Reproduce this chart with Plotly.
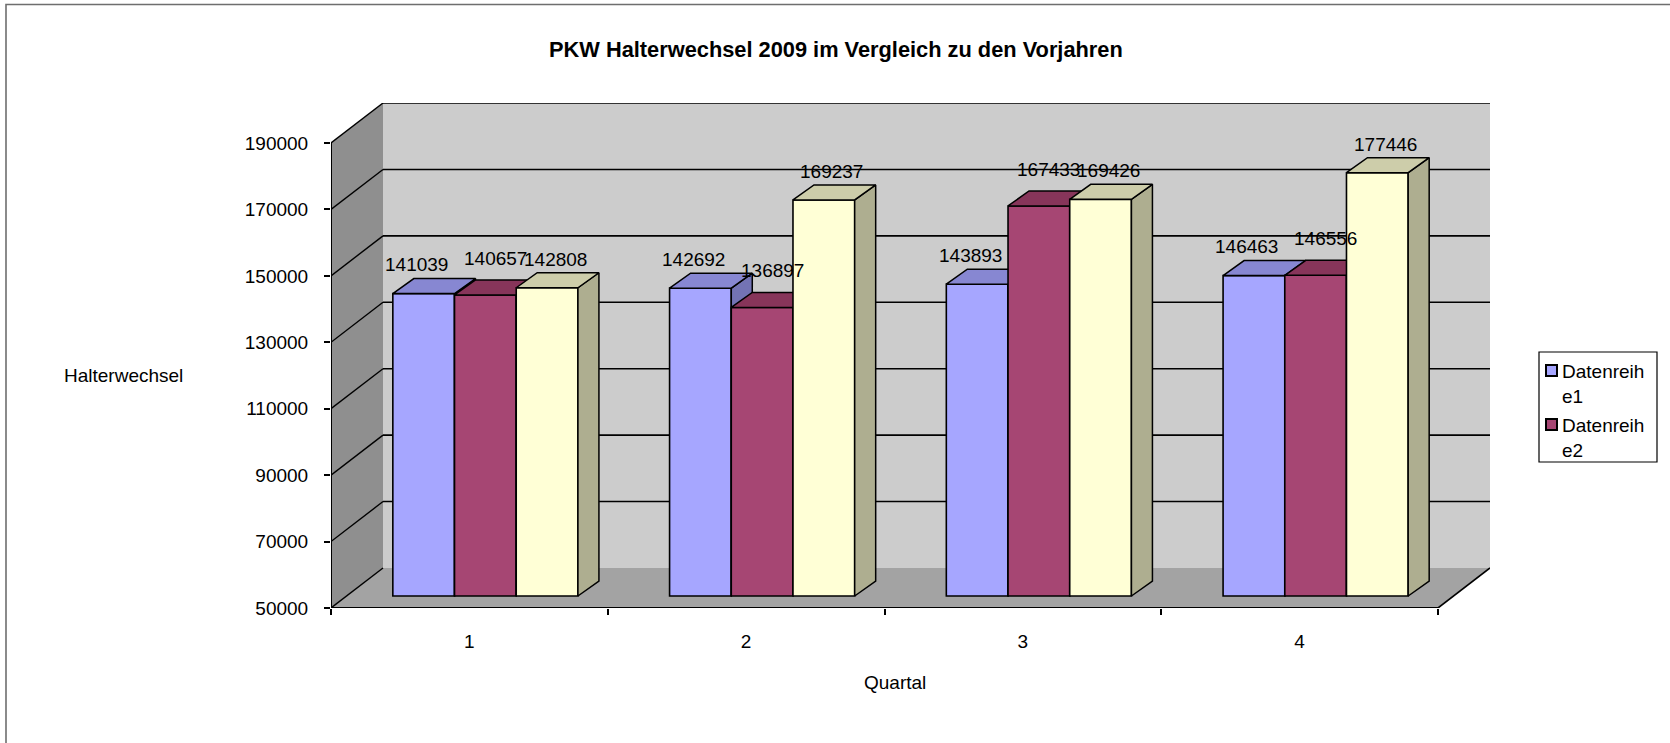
import plotly.graph_objects as go

# ---------------- data ----------------
quarters = [1, 2, 3, 4]
series_names = ["Datenreihe1", "Datenreihe2", "Datenreihe3"]
series1 = [141039, 142692, 143893, 146463]
series2 = [140657, 136897, 167433, 146556]
series3 = [142808, 169237, 169426, 177446]
y_ticks = [50000, 70000, 90000, 110000, 130000, 150000, 170000, 190000]
chart_title = "PKW Halterwechsel 2009 im Vergleich zu den Vorjahren"
x_title = "Quartal"
y_title = "Halterwechsel"
legend_shown = 2  # the legend box in the original only shows two entries

series_values = [series1, series2, series3]

# ---------------- styles ----------------
W, H = 1670, 743
FONT = "Liberation Sans, Arial, sans-serif"
FS = 19
front_colors = ["#A6A6FF", "#A64673", "#FFFFD6"]
top_colors = ["#8787D2", "#87355A", "#CDCDAA"]
side_colors = ["#7373B4", "#6E2B4A", "#AEAE90"]
label_dx = [-7, 10, 8]      # px shift of value labels per series
label_up = [22, 30, 22]     # px baseline above front top per series

# geometry in pixels
PX_LEFT, PX_RIGHT, PX_BOTTOM, PX_TOP_TICK = 331, 1438, 608, 143
WALL_DX, WALL_DY = 52, 40
BAR_SHIFT_X, BAR_SHIFT_Y = 16, 12
BAR_DX, BAR_DY = 21, 15
BAR_W_PX = 61.7

n_cat = len(quarters)
x_lo = quarters[0] - 0.5
x_hi = quarters[-1] + 0.5
UX = (x_hi - x_lo) / (PX_RIGHT - PX_LEFT)
y_lo, y_hi = y_ticks[0], y_ticks[-1]
UY = (y_hi - y_lo) / (PX_BOTTOM - PX_TOP_TICK)

x_range = [x_lo, x_hi + WALL_DX * UX]
y_range = [y_lo, y_hi + WALL_DY * UY]

def px(x):
    return x / W

def py(y):
    return 1 - y / H

fig = go.Figure()

# invisible trace so the base subplot exists
fig.add_trace(go.Scatter(x=[x_lo], y=[y_lo], mode="markers", marker=dict(opacity=0),
                         showlegend=False, hoverinfo="skip", xaxis="x", yaxis="y"))

wx, wy = WALL_DX * UX, WALL_DY * UY
shapes = []
# back wall
shapes.append(dict(type="rect", xref="x", yref="y", x0=x_lo + wx, x1=x_hi + wx,
                   y0=y_lo + wy, y1=y_hi + wy, fillcolor="#CCCCCC", line=dict(width=0), layer="below"))
# left wall
shapes.append(dict(type="path", xref="x", yref="y", layer="below", fillcolor="#8F8F8F", line=dict(width=0),
                   path=f"M {x_lo},{y_lo} L {x_lo},{y_hi} L {x_lo + wx},{y_hi + wy} L {x_lo + wx},{y_lo + wy} Z"))
# floor
shapes.append(dict(type="path", xref="x", yref="y", layer="below", fillcolor="#A3A3A3", line=dict(width=0),
                   path=f"M {x_lo},{y_lo} L {x_hi},{y_lo} L {x_hi + wx},{y_lo + wy} L {x_lo + wx},{y_lo + wy} Z"))
# gridlines on back wall and side wall
for t in y_ticks:
    if t != y_lo:
        shapes.append(dict(type="line", xref="x", yref="y", layer="below", x0=x_lo + wx, x1=x_hi + wx,
                           y0=t + wy, y1=t + wy, line=dict(color="black", width=1.6)))
    shapes.append(dict(type="line", xref="x", yref="y", layer="below", x0=x_lo, x1=x_lo + wx,
                       y0=t, y1=t + wy, line=dict(color="black", width=1.4)))
# floor right edge, front edge, left front edge
shapes.append(dict(type="line", xref="x", yref="y", layer="below", x0=x_hi, x1=x_hi + wx,
                   y0=y_lo, y1=y_lo + wy, line=dict(color="black", width=1.6)))
shapes.append(dict(type="line", xref="x", yref="y", layer="below", x0=x_lo, x1=x_hi,
                   y0=y_lo, y1=y_lo, line=dict(color="black", width=2)))
shapes.append(dict(type="line", xref="x", yref="y", layer="below", x0=x_lo, x1=x_lo,
                   y0=y_lo, y1=y_hi, line=dict(color="black", width=2)))

# ---------------- bars (one overlay subplot per series) ----------------
bw = BAR_W_PX * UX
sx, sy = BAR_SHIFT_X * UX, BAR_SHIFT_Y * UY
bdx, bdy = BAR_DX * UX, BAR_DY * UY
annotations = []
n_s = len(series_values)
for i, vals in enumerate(series_values):
    ax = str(i + 2)
    centers = [q + sx + (i - (n_s - 1) / 2) * bw for q in quarters]
    base = y_lo + sy
    fig.add_trace(go.Bar(x=centers, y=[v - y_lo for v in vals], base=base, width=bw,
                         marker=dict(color=front_colors[i], line=dict(color="black", width=1.6)),
                         name=series_names[i], showlegend=False, hoverinfo="skip",
                         xaxis="x" + ax, yaxis="y" + ax))
    tx, ty, sxs, sys_ = [], [], [], []
    for c, v in zip(centers, vals):
        x0, x1 = c - bw / 2, c + bw / 2
        t = v + sy
        tx += [x0, x1, x1 + bdx, x0 + bdx, x0, None]
        ty += [t, t, t + bdy, t + bdy, t, None]
        sxs += [x1, x1, x1 + bdx, x1 + bdx, x1, None]
        sys_ += [base, t, t + bdy, base + bdy, base, None]
    fig.add_trace(go.Scatter(x=sxs, y=sys_, mode="lines", fill="toself", fillcolor=side_colors[i],
                             line=dict(color="black", width=1.5), showlegend=False, hoverinfo="skip",
                             xaxis="x" + ax, yaxis="y" + ax))
    fig.add_trace(go.Scatter(x=tx, y=ty, mode="lines", fill="toself", fillcolor=top_colors[i],
                             line=dict(color="black", width=1.5), showlegend=False, hoverinfo="skip",
                             xaxis="x" + ax, yaxis="y" + ax))
    for c, v in zip(centers, vals):
        annotations.append(dict(xref="x", yref="y", x=c + label_dx[i] * UX,
                                y=v + sy + (label_up[i] + 6.7) * UY,
                                text=str(v), showarrow=False, xanchor="center", yanchor="middle",
                                font=dict(family=FONT, size=FS, color="black")))

# ---------------- titles ----------------
annotations.append(dict(xref="paper", yref="paper", x=px(836), y=py(49), text="<b>" + chart_title + "</b>",
                        showarrow=False, xanchor="center", yanchor="middle",
                        font=dict(family=FONT, size=21.8, color="black")))
annotations.append(dict(xref="paper", yref="paper", x=px(123), y=py(375), text=y_title,
                        showarrow=False, xanchor="center", yanchor="middle",
                        font=dict(family=FONT, size=FS, color="black")))
annotations.append(dict(xref="paper", yref="paper", x=px(895), y=py(682), text=x_title,
                        showarrow=False, xanchor="center", yanchor="middle",
                        font=dict(family=FONT, size=FS, color="black")))

# ---------------- legend (manual, clipped like the original) ----------------
shapes.append(dict(type="rect", xref="paper", yref="paper", x0=px(1539), x1=px(1657), y0=py(462), y1=py(352),
                   fillcolor="white", line=dict(color="black", width=1.2)))
for k in range(legend_shown):
    top = 365 + k * 54
    shapes.append(dict(type="rect", xref="paper", yref="paper", x0=px(1546), x1=px(1557), y0=py(top + 11),
                       y1=py(top), fillcolor=front_colors[k], line=dict(color="black", width=2)))
    name = series_names[k]
    annotations.append(dict(xref="paper", yref="paper", x=px(1560), y=py(top + 6), text=name[:9],
                            showarrow=False, xanchor="left", yanchor="middle",
                            font=dict(family=FONT, size=FS, color="black")))
    annotations.append(dict(xref="paper", yref="paper", x=px(1560), y=py(top + 31), text=name[9:],
                            showarrow=False, xanchor="left", yanchor="middle",
                            font=dict(family=FONT, size=FS, color="black")))

# outer chart frame
shapes.append(dict(type="rect", xref="paper", yref="paper", x0=px(6), x1=px(1720), y0=py(800), y1=py(4.5),
                   fillcolor="rgba(0,0,0,0)", line=dict(color="#6E6E6E", width=1.6)))

# ---------------- axes ----------------
xdom = [px(PX_LEFT), px(PX_RIGHT + WALL_DX)]
ydom = [py(PX_BOTTOM), py(PX_TOP_TICK - WALL_DY)]
layout = dict(
    width=W, height=H, autosize=False, margin=dict(l=0, r=0, t=0, b=0, pad=0, autoexpand=False),
    paper_bgcolor="white", plot_bgcolor="rgba(0,0,0,0)",
    barmode="overlay", showlegend=False,
    xaxis=dict(domain=xdom, range=x_range, tickvals=quarters, ticktext=[str(q) for q in quarters],
               ticks="", showline=False, showgrid=False, zeroline=False, ticklabelstandoff=20,
               automargin=False,
               tickfont=dict(family=FONT, size=FS, color="black"), anchor="y"),
    yaxis=dict(domain=ydom, range=y_range, tickvals=y_ticks, ticktext=[str(t) for t in y_ticks],
               ticks="outside", ticklen=6, tickwidth=1.5, tickcolor="black", ticklabelstandoff=12,
               showline=False, showgrid=False, zeroline=False, automargin=False,
               tickfont=dict(family=FONT, size=FS, color="black"), anchor="x"),
    shapes=shapes, annotations=annotations,
)
boundaries = [q - 0.5 for q in quarters] + [quarters[-1] + 0.5]
for i in range(n_s):
    ax = str(i + 2)
    layout["xaxis" + ax] = dict(overlaying="x", range=x_range, anchor="y" + ax, showgrid=False,
                                zeroline=False, showline=False, showticklabels=False, automargin=False,
                                tickvals=boundaries if i == 0 else [],
                                ticks="outside" if i == 0 else "", ticklen=6, tickwidth=1.5, tickcolor="black")
    layout["yaxis" + ax] = dict(overlaying="y", range=y_range, anchor="x" + ax, visible=False,
                                automargin=False)
fig.update_layout(**layout)

fig.write_html("out.html", config={"responsive": False, "displayModeBar": False},
               post_script="document.body.style.margin='0px';")
